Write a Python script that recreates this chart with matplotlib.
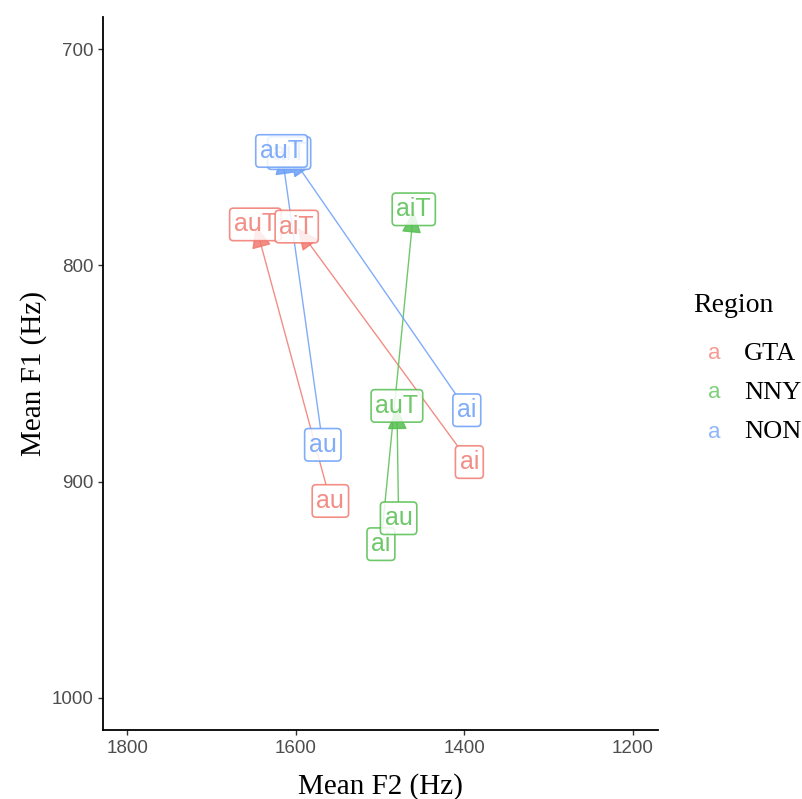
import matplotlib.pyplot as plt

# mean formant values per region (Hz)
regions = ['GTA', 'NNY', 'NON']
colors = {'GTA': '#F07A70', 'NNY': '#55BF50', 'NON': '#6A9EF8'}
onsets = ['ai', 'au']

f2 = {
    'GTA': {'ai': 1394, 'au': 1559, 'aiT': 1599, 'auT': 1648},
    'NNY': {'ai': 1499, 'au': 1478, 'aiT': 1460, 'auT': 1480},
    'NON': {'ai': 1397, 'au': 1568, 'aiT': 1608, 'auT': 1617},
}
f1 = {
    'GTA': {'ai': 891, 'au': 909, 'aiT': 782, 'auT': 781},
    'NNY': {'ai': 929, 'au': 917, 'aiT': 774, 'auT': 865},
    'NON': {'ai': 867, 'au': 883, 'aiT': 748, 'auT': 747},
}

xticks = [1800, 1600, 1400, 1200]
yticks = [700, 800, 900, 1000]

sans = 'Liberation Sans'
serif = 'Liberation Serif'

fig = plt.figure(figsize=(8.03, 7.99), dpi=100)
ax = fig.add_axes([0.1283, 0.0864, 0.8194 - 0.1283, 0.9787 - 0.0864])

lab_size = 18


def box(col):
    return dict(boxstyle='round,pad=0.17,rounding_size=0.15', fc=(1, 1, 1, 0.8),
                ec=col, lw=1.2)


# offset labels first so arrows can clip to their boxes
targets = {}
z = 5
for r in regions:
    col = colors[r]
    order = ['aiT', 'auT'] if r == 'NON' else ['auT', 'aiT']
    for v in order:
        t = ax.text(f2[r][v], f1[r][v], v, ha='center', va='center', fontsize=lab_size,
                    family=sans, color=col, alpha=0.85, zorder=z, bbox=box(col))
        t.get_bbox_patch().set_alpha(0.85)
        targets[(r, v)] = t
        z += 0.1

fig.canvas.draw()

for r in regions:
    col = colors[r]
    for v in onsets:
        tgt = targets[(r, v + 'T')]
        a = ax.annotate(v, xy=(f2[r][v + 'T'], f1[r][v + 'T']), xytext=(f2[r][v], f1[r][v]),
                        xycoords='data', textcoords='data', ha='center', va='center',
                        fontsize=lab_size, family=sans, color=col, alpha=0.85, zorder=4,
                        bbox=box(col),
                        arrowprops=dict(arrowstyle='-|>,head_length=0.5,head_width=0.22',
                                        color=col, lw=1.0, alpha=0.85, mutation_scale=28,
                                        patchB=tgt.get_bbox_patch(), shrinkA=0, shrinkB=1))
        a.get_bbox_patch().set_alpha(0.85)

ax.set_xlim(1829, 1170)
ax.set_ylim(1015, 685)
ax.set_xticks(xticks)
ax.set_yticks(yticks)
ax.tick_params(direction='out', length=3.5, width=1, color='#333333',
               labelcolor='#4D4D4D', labelsize=13.5)
for lab in ax.get_xticklabels() + ax.get_yticklabels():
    lab.set_family(sans)
for s in ['top', 'right']:
    ax.spines[s].set_visible(False)
for s in ['left', 'bottom']:
    ax.spines[s].set_linewidth(1.3)
    ax.spines[s].set_color('black')

ax.set_xlabel('Mean F2 (Hz)', family=serif, fontsize=21, labelpad=12)
ax.set_ylabel('Mean F1 (Hz)', family=serif, fontsize=21, labelpad=3)

# legend drawn by hand: text keys like ggplot's label legend
fig.text(693 / 803, 1 - 305 / 799, 'Region', family=serif, fontsize=20, va='center', ha='left')
for i, r in enumerate(regions):
    y = 1 - (354 + 39 * i) / 799
    fig.text(714 / 803, y, 'a', family=sans, fontsize=16, color=colors[r], alpha=0.75,
             ha='center', va='center')
    fig.text(744 / 803, y, r, family=serif, fontsize=19, va='center', ha='left')

fig.savefig('out.png', dpi=100)
